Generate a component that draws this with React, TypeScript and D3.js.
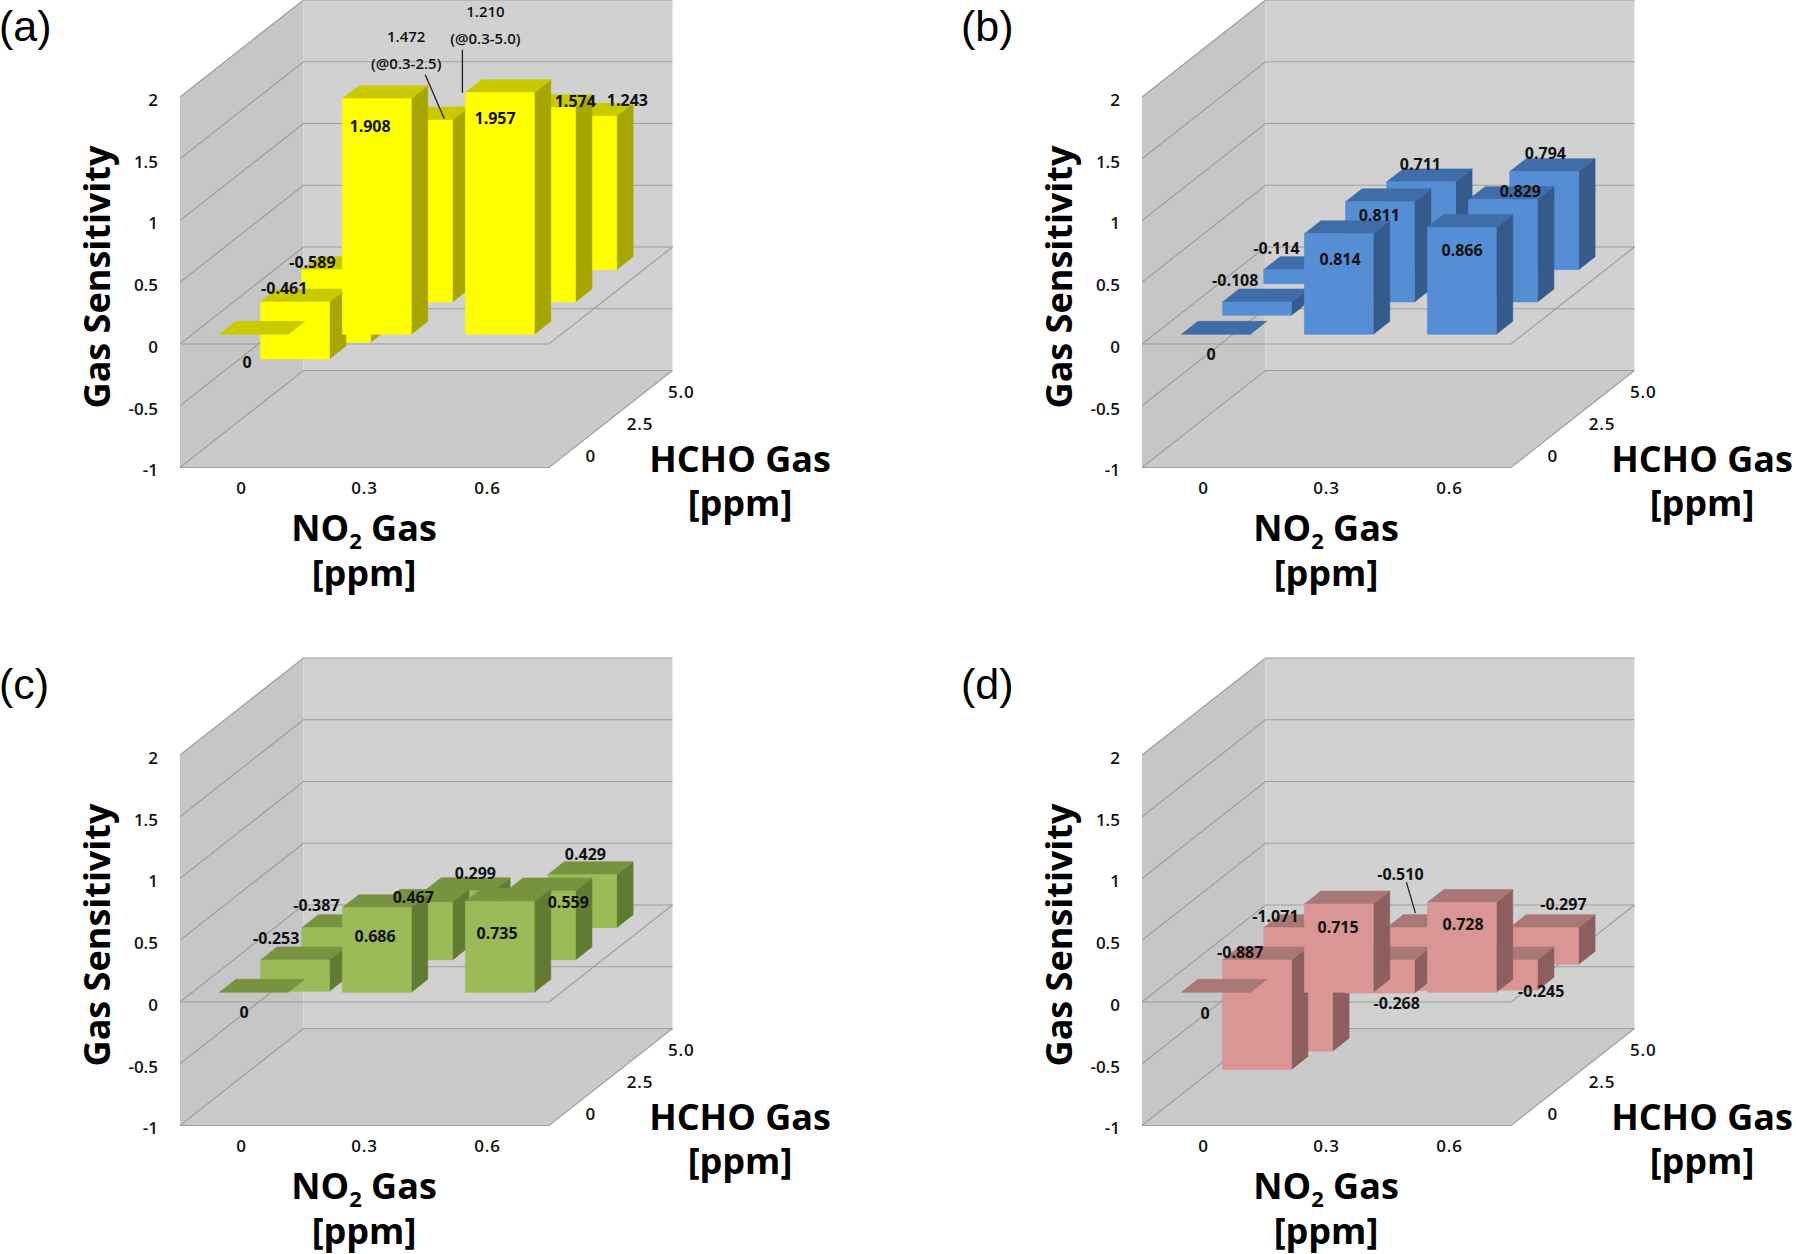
import React from 'react';
import * as d3 from 'd3';

// ---------- data ----------
const no2Levels = ['0', '0.3', '0.6'];        // NO2 Gas [ppm] (x axis)
const hchoLevels = ['0', '2.5', '5.0'];       // HCHO Gas [ppm] (depth axis)
const valueTicks = [-1, -0.5, 0, 0.5, 1, 1.5, 2];

// order: NO2 0 (HCHO 0, 2.5, 5.0), NO2 0.3 (HCHO 0, 2.5, 5.0), NO2 0.6 (HCHO 0, 2.5, 5.0)
const sensitivityA = [0, -0.461, -0.589, 1.908, 1.472, 1.21, 1.957, 1.574, 1.243];
const sensitivityB = [0, -0.108, -0.114, 0.814, 0.811, 0.711, 0.866, 0.829, 0.794];
const sensitivityC = [0, -0.253, -0.387, 0.686, 0.467, 0.299, 0.735, 0.559, 0.429];
const sensitivityD = [0, -0.887, -1.071, 0.715, -0.268, -0.51, 0.728, -0.245, -0.297];
const notesA = ['', '', '', '', '(@0.3-2.5)', '(@0.3-5.0)', '', '', ''];
const panelLetters = ['(a)', '(b)', '(c)', '(d)'];

// ---------- layout / style ----------
const PANEL_ORIGINS: [number, number][] = [[0, 0], [962, 0], [0, 658], [962, 658]];
const X0 = 180;
const W = 369;
const DX = 123.5;
const DY = -97;

const COLORS = [
  { front: '#FFFF00', top: '#C9C900', side: '#A6A600' },
  { front: '#558ED5', top: '#3F6DA8', side: '#345B8C' },
  { front: '#9BBB59', top: '#779340', side: '#627B32' },
  { front: '#D99694', top: '#A97776', side: '#8C5F5E' },
];

// label nudges relative to the bar's top centre (same order as the data)
const NUDGE_A: [number, number][] = [[-15, 35], [-19, -7], [-32, -1], [-15, 34], [-20, -77], [18, -102], [-13, 32], [26, 0], [37, -9]];
const NUDGE_B: [number, number][] = [[-13, 27], [-30, -15], [-30, -15], [-7, 32], [-9, 20], [-9, -11], [-8, 30], [9, -2], [-7, -12]];
const NUDGE_C: [number, number][] = [[-18, 27], [-27, -15], [-28, -16], [-10, 35], [-13, 1.5], [8, -11], [-11, 38], [19, 18], [-5, -14]];
const NUDGE_D: [number, number][] = [[-19, 28], [-25, -1], [-31, -5], [-9, 30], [8.5, 50], [-29, -47], [-7, 28], [30, 38], [11, -17]];
// leader lines [x1,y1,x2,y2] relative to bar top centre
const LEADERS: Record<string, [number, number, number, number]> = {
  'a-4': [-1, -39, 18, 5],
  'a-5': [-5, -64, -5, -21],
  'd-5': [-23, -39, -14, -8],
};

const panels = [
  { key: 'a', values: sensitivityA, nudges: NUDGE_A, notes: notesA },
  { key: 'b', values: sensitivityB, nudges: NUDGE_B, notes: null },
  { key: 'c', values: sensitivityC, nudges: NUDGE_C, notes: null },
  { key: 'd', values: sensitivityD, nudges: NUDGE_D, notes: null },
];

const FONT = "'Open Sans', 'Noto Sans', sans-serif";

const yScale = d3.scaleLinear().domain([-1, 2]).range([467.5, 97]);
const xBand = d3.scaleBand<string>().domain(no2Levels).range([X0, X0 + W]).paddingInner(0.44).paddingOuter(0.22);
const zBand = d3.scaleBand<string>().domain(hchoLevels).range([0, 1]).paddingInner(0.6).paddingOuter(0.3);

const proj = (x: number, v: number, d: number): [number, number] => [x + d * DX, yScale(v) + d * DY];
const poly = (pts: [number, number][]) => pts.map((p) => p.map((n) => n.toFixed(2)).join(',')).join(' ');

function fmt(v: number) {
  return v === 0 ? '0' : v.toFixed(3);
}

function Panel({ idx }: { idx: number }) {
  const panel = panels[idx];
  const col = COLORS[idx];
  const [ox, oy] = PANEL_ORIGINS[idx];
  const vMin = yScale.domain()[0];
  const vMax = yScale.domain()[1];
  const wallFill = '#D1D1D1';
  const sideWallFill = '#C6C6C6';
  const floorFill = '#CACACA';
  const gridColor = '#9E9E9E';

  const bars = panel.values.map((v, i) => {
    const c = no2Levels[Math.floor(i / 3)];
    const h = hchoLevels[i % 3];
    return { v, i, c, h, row: i % 3, colIdx: Math.floor(i / 3) };
  });
  const drawOrder = [...bars].sort((a, b) => b.row - a.row || a.colIdx - b.colIdx);

  const bw = xBand.bandwidth();
  const zw = zBand.bandwidth();

  return (
    <g transform={`translate(${ox},${oy})`}>
      {/* walls */}
      <polygon points={poly([proj(X0, vMax, 0), proj(X0, vMax, 1), proj(X0, vMin, 1), proj(X0, vMin, 0)])} fill={sideWallFill} />
      <polygon points={poly([proj(X0, vMax, 1), proj(X0 + W, vMax, 1), proj(X0 + W, vMin, 1), proj(X0, vMin, 1)])} fill={wallFill} />
      <polygon points={poly([proj(X0, vMin, 0), proj(X0 + W, vMin, 0), proj(X0 + W, vMin, 1), proj(X0, vMin, 1)])} fill={floorFill} />
      {/* gridlines */}
      {valueTicks.map((t) => {
        const a = proj(X0, t, 0);
        const b = proj(X0, t, 1);
        const c = proj(X0 + W, t, 1);
        return (
          <polyline key={t} points={poly([a, b, c])} fill="none" stroke={gridColor} strokeWidth={1.2} />
        );
      })}
      {/* floor and zero-plane outlines */}
      {[vMin, 0].map((lv) => (
        <polyline key={'pl' + lv} points={poly([proj(X0, lv, 0), proj(X0 + W, lv, 0), proj(X0 + W, lv, 1)])} fill="none" stroke={gridColor} strokeWidth={1.2} />
      ))}
      {/* bars (clipped to the value axis range, as in the source chart) */}
      {drawOrder.map((b) => {
        const x1 = xBand(b.c)!;
        const x2 = x1 + bw;
        const d1 = zBand(b.h)!;
        const d2 = d1 + zw;
        const top = Math.min(Math.max(b.v, 0), vMax);
        const bot = Math.max(Math.min(b.v, 0), vMin);
        const topFace = poly([proj(x1, top, d1), proj(x2, top, d1), proj(x2, top, d2), proj(x1, top, d2)]);
        if (b.v === 0) {
          return <polygon key={b.i} points={topFace} fill={col.top} stroke={col.top} strokeWidth={0.6} />;
        }
        const front = poly([proj(x1, top, d1), proj(x2, top, d1), proj(x2, bot, d1), proj(x1, bot, d1)]);
        const side = poly([proj(x2, top, d1), proj(x2, top, d2), proj(x2, bot, d2), proj(x2, bot, d1)]);
        return (
          <g key={b.i}>
            <polygon points={side} fill={col.side} stroke={col.side} strokeWidth={0.6} strokeLinejoin="round" />
            <polygon points={topFace} fill={col.top} stroke={col.top} strokeWidth={0.6} strokeLinejoin="round" />
            <polygon points={front} fill={col.front} stroke={col.front} strokeWidth={0.6} strokeLinejoin="round" />
          </g>
        );
      })}
      {/* data labels */}
      {bars.map((b) => {
        const xc = xBand(b.c)! + bw / 2;
        const dc = zBand(b.h)! + zw / 2;
        const [ax, ay] = proj(xc, Math.max(b.v, 0), dc);
        const [nx, ny] = panel.nudges[b.i];
        const note = panel.notes ? panel.notes[b.i] : '';
        const leader = LEADERS[`${panel.key}-${b.i}`];
        return (
          <g key={'lab' + b.i}>
            {leader && (
              <line x1={ax + leader[0]} y1={ay + leader[1]} x2={ax + leader[2]} y2={ay + leader[3]} stroke="#222" strokeWidth={1.3} />
            )}
            <text x={ax + nx} y={ay + ny} dy="0.35em" textAnchor="middle" fontFamily={FONT} fontSize={note ? 15 : 16} fontWeight={note ? 600 : 700} fill="#111">
              {fmt(b.v)}
              {note && (
                <tspan x={ax + nx} dy={27}>
                  {note}
                </tspan>
              )}
            </text>
          </g>
        );
      })}
      {/* value axis ticks */}
      {valueTicks.map((t) => (
        <text key={'yt' + t} x={158} y={yScale(t) + 3} dy="0.35em" textAnchor="end" fontFamily={FONT} fontSize={17} fontWeight={600} fill="#111">
          {String(t)}
        </text>
      ))}
      {/* NO2 ticks */}
      {no2Levels.map((c) => (
        <text key={'xt' + c} x={xBand(c)! + bw / 2} y={488} dy="0.35em" textAnchor="middle" fontFamily={FONT} fontSize={17} fontWeight={600} letterSpacing={0.8} fill="#111">
          {c}
        </text>
      ))}
      {/* HCHO ticks */}
      {hchoLevels.map((h) => {
        const [px, py] = proj(X0 + W, vMin, zBand(h)! + zw / 2);
        return (
          <text key={'zt' + h} x={px + 16} y={py + 5} dy="0.35em" textAnchor="start" fontFamily={FONT} fontSize={17} fontWeight={600} letterSpacing={0.8} fill="#111">
            {h}
          </text>
        );
      })}
      {/* axis titles */}
      <text transform="translate(110,277) rotate(-90)" textAnchor="middle" fontFamily={FONT} fontSize={36} fontWeight={700} fill="#000">
        Gas Sensitivity
      </text>
      <text x={364} y={541} textAnchor="middle" fontFamily={FONT} fontSize={36} fontWeight={700} fill="#000">
        NO<tspan fontSize={22} dy={8}>2</tspan><tspan dy={-8}> Gas</tspan>
        <tspan x={364} dy={45}>[ppm]</tspan>
      </text>
      <text x={740} y={472} textAnchor="middle" fontFamily={FONT} fontSize={36} fontWeight={700} fill="#000">
        HCHO Gas
        <tspan x={740} dy={44}>[ppm]</tspan>
      </text>
      {/* panel letter */}
      <text x={-1} y={41} fontFamily="'Liberation Sans', Arial, sans-serif" fontSize={43} fill="#000">
        {panelLetters[idx]}
      </text>
    </g>
  );
}

export default function App() {
  return (
    <svg
      width={1796}
      height={1254}
      viewBox="0 0 1796 1254"
      style={{ position: 'absolute', left: 0, top: 0, background: '#fff' }}
    >
      <rect x={0} y={0} width={1796} height={1254} fill="#fff" />
      {panels.map((p, i) => (
        <Panel key={p.key} idx={i} />
      ))}
    </svg>
  );
}
